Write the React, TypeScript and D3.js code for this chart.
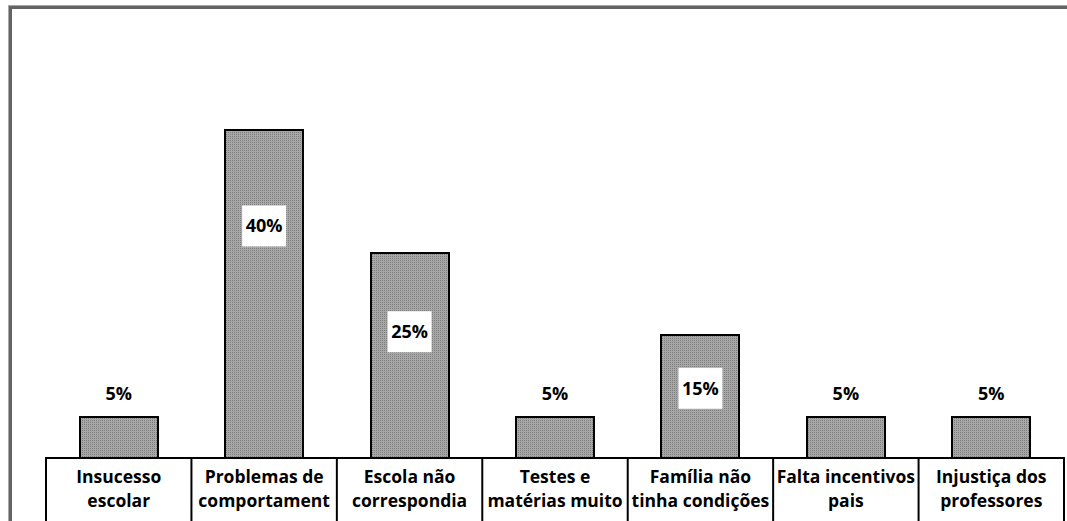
import React from "react";
import * as d3 from "d3";

const categories: string[][] = [
  ["Insucesso", "escolar"],
  ["Problemas de", "comportament"],
  ["Escola não", "correspondia"],
  ["Testes e", "matérias muito"],
  ["Família não", "tinha condições"],
  ["Falta incentivos", "pais"],
  ["Injustiça dos", "professores"],
];
const values: number[] = [5, 40, 25, 5, 15, 5, 5];
const valueLabels: string[] = ["5%", "40%", "25%", "5%", "15%", "5%", "5%"];
// where each data label sits, in value units
const labelAt: number[] = [7.9, 28.3, 15.4, 7.9, 8.5, 7.9, 7.9];

const W = 1067;
const H = 521;
const FONT = "'Open Sans', sans-serif";

export default function App() {
  const keys = categories.map((c, i) => String(i));
  const x = d3.scaleBand<string>().domain(keys).range([46, 1064]).paddingInner(0.464).paddingOuter(0.232);
  const cell = d3.scaleBand<string>().domain(keys).range([46, 1064]).padding(0);
  const y = d3.scaleLinear().domain([0, 50]).range([458, 48]);

  return (
    <svg
      width={W}
      height={H}
      style={{ position: "absolute", left: 0, top: 0, display: "block", background: "#fff" }}
    >
      <defs>
        <pattern id="dots" width={2} height={2} patternUnits="userSpaceOnUse">
          <rect width={2} height={2} fill="#a8a8a8" />
          <rect width={1} height={1} fill="#7c7c7c" />
        </pattern>
      </defs>
      {/* chart frame */}
      <rect x={8.5} y={5.5} width={1200} height={800} fill="none" stroke="#a8a8a8" strokeWidth={1} />
      <rect x={10.5} y={7.5} width={1200} height={800} fill="none" stroke="#646464" strokeWidth={3} />

      {/* bars */}
      {values.map((v, i) => (
        <rect
          key={"b" + i}
          x={Math.round(x(keys[i])!)}
          y={Math.round(y(v))}
          width={Math.round(x.bandwidth())}
          height={Math.round(y(0)) - Math.round(y(v))}
          fill="url(#dots)"
          stroke="#000"
          strokeWidth={2}
        />
      ))}

      {/* data labels */}
      {values.map((v, i) => {
        const cx = x(keys[i])! + x.bandwidth() / 2;
        const cy = y(labelAt[i]);
        return (
          <g key={"l" + i}>
            <rect x={cx - 22} y={cy - 20.5} width={44} height={41} fill="#fff" />
            <text
              x={cx}
              y={cy}
              dy="0.36em"
              textAnchor="middle"
              fontFamily={FONT}
              fontWeight={700}
              fontSize={18}
              fill="#000"
            >
              {valueLabels[i]}
            </text>
          </g>
        );
      })}

      {/* category table */}
      <line x1={46} x2={1064} y1={y(0)} y2={y(0)} stroke="#000" strokeWidth={2} />
      {keys.map((k) => (
        <line key={"v" + k} x1={cell(k)!} x2={cell(k)!} y1={y(0) - 1} y2={H + 5} stroke="#000" strokeWidth={2} />
      ))}
      <line x1={1064} x2={1064} y1={y(0) - 1} y2={H + 5} stroke="#000" strokeWidth={2} />
      {categories.map((lines, i) => (
        <text
          key={"c" + i}
          textAnchor="middle"
          fontFamily={FONT}
          fontWeight={700}
          fontSize={17.5}
          fill="#000"
        >
          {lines.map((t, j) => (
            <tspan key={j} x={cell(keys[i])! + cell.bandwidth() / 2} y={483 + j * 24}>
              {t}
            </tspan>
          ))}
        </text>
      ))}
    </svg>
  );
}
